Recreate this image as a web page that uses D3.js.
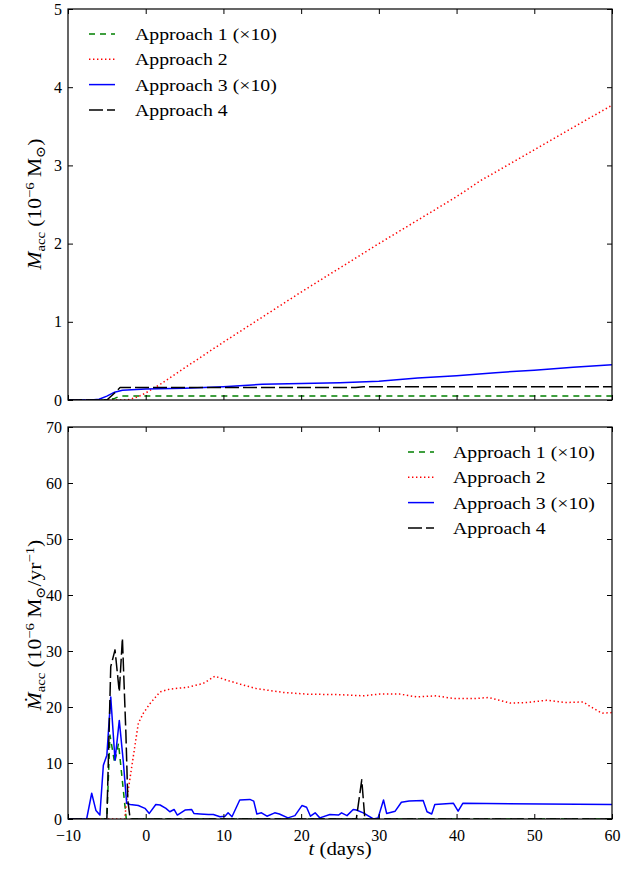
<!DOCTYPE html>
<html>
<head>
<meta charset="utf-8">
<script src="https://cdn.jsdelivr.net/npm/d3@7/dist/d3.min.js"></script>
<style>
  html, body { margin: 0; padding: 0; background: #fff; }
  svg { display: block; }
  text { font-family: "Liberation Serif", "DejaVu Serif", serif; fill: #000; }
</style>
</head>
<body>
<svg id="chart" width="643" height="870"></svg>
<script>
// ---------- data ----------
const seriesNames = ["Approach 1 (\u00d710)", "Approach 2", "Approach 3 (\u00d710)", "Approach 4"];
const seriesColors = ["#008000", "#ff0000", "#0000ff", "#000000"];
const xTicks = [-10, 0, 10, 20, 30, 40, 50, 60];
const yTicksTop = [0, 1, 2, 3, 4, 5];
const yTicksBottom = [0, 10, 20, 30, 40, 50, 60, 70];

// Top panel: accumulated mass (1e-6 Msun)
const topT1 = [-10, -5, -4, -3.3, 0, 10, 20, 30, 40, 50, 60];
const topV1 = [0, 0, 0.02, 0.05, 0.05, 0.05, 0.05, 0.05, 0.05, 0.05, 0.05];
const topT2 = [-10, -5, -2.4, -1, 0, 2, 5, 10, 20, 30, 40, 43, 50, 60];
const topV2 = [0, 0, 0.0, 0.04, 0.09, 0.21, 0.41, 0.74, 1.38, 2.0, 2.6, 2.8, 3.2, 3.77];
const topT3 = [-10, -7, -6, -5, -4, -3, 0, 5, 10, 15, 20, 25, 30, 35, 40, 45, 50, 55, 60];
const topV3 = [0, 0, 0.01, 0.05, 0.1, 0.125, 0.14, 0.15, 0.17, 0.2, 0.21, 0.22, 0.24, 0.28, 0.31, 0.35, 0.38, 0.42, 0.45];
const topT4 = [-10, -5, -4, -3.3, 0, 10, 20, 27, 28, 60];
const topV4 = [0, 0, 0.09, 0.16, 0.16, 0.16, 0.16, 0.16, 0.17, 0.17];

// Bottom panel: accretion rate (1e-6 Msun/yr)
const botT1 = [-10, -5, -4.6, -4.0, -3.5, -2.5, 60];
const botV1 = [0, 0, 15, 10, 13.5, 0, 0];
const botT2 = [-10, -2.7, -2.45, -1.8, -0.95, -0.3, 0.55, 1.84, 3.1, 5.3, 7.4, 8.9, 10.4, 12.1, 14.2, 17.7, 20.7, 25, 28, 30.1, 32.7, 34.9, 37.4, 39.6, 42.2, 44.1, 45.2, 46.9, 49, 51.6, 54, 56.3, 57.2, 58.7, 60];
const botV2 = [0, 0, 3.3, 9.3, 17.1, 18.9, 20.6, 22.7, 23.2, 23.5, 24.2, 25.5, 24.8, 24.1, 23.3, 22.6, 22.3, 22.2, 22.0, 22.3, 22.3, 21.8, 22.0, 21.5, 21.5, 21.7, 21.3, 20.7, 20.8, 21.2, 20.8, 20.9, 20.1, 18.9, 19.0];
const botT3 = [-10, -7.6, -6.95, -6.4, -5.9, -5.45, -5.0, -4.5, -3.95, -3.4, -2.9, -2.45, -2.0, -0.95, -0.1, 0.46, 1.3, 1.85, 2.6, 3.1, 3.65, 4.07, 5.06, 5.9, 6.2, 7.0, 8.06, 8.7, 9.56, 10.2, 10.6, 11.1, 12.1, 13.4, 13.9, 14.3, 14.9, 15.6, 16.6, 17.2, 18.3, 19.2, 20.1, 20.7, 21.2, 21.8, 22.4, 23.7, 24.8, 25.2, 25.9, 26.7, 27.1, 28.0, 29.3, 29.9, 30.6, 31.0, 32.1, 32.9, 33.9, 35.7, 36.2, 36.8, 37.2, 39.6, 40.2, 40.8, 60];
const botV3 = [0, 0, 4.6, 1.5, 0.7, 9.6, 11.4, 21.8, 10.5, 17.6, 10.5, 2.8, 2.6, 2.4, 1.9, 1.0, 2.6, 2.5, 1.9, 1.3, 1.7, 0.7, 1.6, 1.7, 1.0, 0.9, 0.8, 0.8, 0.4, 0.5, 1.1, 0.4, 3.4, 3.5, 3.2, 0.9, 1.1, 0.5, 1.1, 0.9, 0.2, 0.6, 2.4, 2.1, 0.5, 1.1, 0.2, 0.8, 0.7, 1.1, 0.6, 1.7, 1.6, 1.1, 0, 0.2, 3.4, 1.0, 1.4, 3.0, 3.2, 3.3, 1.3, 0.9, 2.6, 2.8, 1.4, 2.8, 2.6];
const botT4 = [-10, -5.0, -4.5, -3.95, -3.4, -3.0, -2.55, -2.3, -2.0, 27.1, 27.8, 28.2, 60];
const botV4 = [0, 0, 27.2, 30.2, 22.7, 32.3, 15.3, 3.3, 0, 0, 7.0, 0, 0];

// ---------- styles ----------
const dashes = ["6,5", "1.4,2.6", null, "14,4"];
const lineWidths = [1.5, 1.5, 1.5, 1.5];
const textStretch = 1.13;

const svg = d3.select("#chart");
const left = 68, right = 612;
const panels = [
  { top: 9, bottom: 400, domain: [0, 5], ticks: yTicksTop, showX: false,
    data: [[topT1, topV1], [topT2, topV2], [topT3, topV3], [topT4, topV4]],
    legend: { lx: 89, tx: 135, y0: 34 } },
  { top: 427, bottom: 819, domain: [0, 70], ticks: yTicksBottom, showX: true,
    data: [[botT1, botV1], [botT2, botV2], [botT3, botV3], [botT4, botV4]],
    legend: { lx: 408, tx: 453, y0: 452 } }
];

const x = d3.scaleLinear().domain([-10, 60]).range([left, right]);
const tickLen = 5;

panels.forEach((p, pi) => {
  const y = d3.scaleLinear().domain(p.domain).range([p.bottom, p.top]);
  const g = svg.append("g");
  const clipId = "clip" + pi;
  svg.append("clipPath").attr("id", clipId).append("rect")
    .attr("x", left).attr("y", p.top).attr("width", right - left).attr("height", p.bottom - p.top);

  const line = d3.line().x(d => x(d[0])).y(d => y(d[1]));
  p.data.forEach((s, i) => {
    const pts = s[0].map((t, k) => [t, s[1][k]]);
    g.append("path").datum(pts)
      .attr("clip-path", `url(#${clipId})`)
      .attr("d", line)
      .attr("fill", "none")
      .attr("stroke", seriesColors[i])
      .attr("stroke-width", lineWidths[i])
      .attr("stroke-dasharray", dashes[i])
      .attr("stroke-linejoin", "round");
  });

  const axL = d3.axisLeft(y).tickValues(p.ticks).tickSize(-tickLen).tickPadding(6).tickFormat(d3.format("d"));
  const axR = d3.axisRight(y).tickValues(p.ticks).tickSize(-tickLen).tickFormat("");
  const axB = d3.axisBottom(x).tickValues(xTicks).tickSize(-tickLen).tickPadding(11)
    .tickFormat(p.showX ? (d => d < 0 ? "\u2212" + Math.abs(d) : d) : "");
  const axT = d3.axisTop(x).tickValues(xTicks).tickSize(-tickLen).tickFormat("");

  [[axL, `translate(${left},0)`], [axR, `translate(${right},0)`],
   [axB, `translate(0,${p.bottom})`], [axT, `translate(0,${p.top})`]].forEach(([ax, tr]) => {
    const a = g.append("g").attr("transform", tr).call(ax);
    a.select(".domain").remove();
    a.selectAll(".tick line").attr("stroke", "#000").attr("stroke-width", 1);
    a.selectAll(".tick text").attr("font-size", 16).attr("font-family", "Liberation Serif, serif").attr("fill", "#000");
  });

  g.append("rect").attr("x", left).attr("y", p.top)
    .attr("width", right - left).attr("height", p.bottom - p.top)
    .attr("fill", "none").attr("stroke", "#000").attr("stroke-width", 1.2);

  seriesNames.forEach((name, i) => {
    const yy = p.legend.y0 + i * 25.3;
    g.append("line").attr("x1", p.legend.lx).attr("x2", p.legend.lx + 26)
      .attr("y1", yy).attr("y2", yy)
      .attr("stroke", seriesColors[i]).attr("stroke-width", lineWidths[i])
      .attr("stroke-dasharray", dashes[i]);
    g.append("text")
      .attr("transform", `translate(${p.legend.tx},${yy + 6}) scale(${textStretch},1)`)
      .attr("font-size", 17.5).text(name);
  });
});

function yLabel(cx, cy, dot, unitsPerYr) {
  const t = svg.append("text")
    .attr("transform", `translate(${cx},${cy}) rotate(-90) scale(${textStretch},1)`)
    .attr("text-anchor", "middle").attr("font-size", 19);
  t.append("tspan").attr("font-style", "italic").text(dot ? "\u1E40" : "M");
  t.append("tspan").attr("font-size", 13).attr("dy", 4).text("acc");
  t.append("tspan").attr("dy", -4).text(" (10");
  t.append("tspan").attr("font-size", 13).attr("dy", -7).text("\u22126");
  t.append("tspan").attr("dy", 7).text(" M");
  t.append("tspan").attr("font-size", 13).attr("dy", 4).text("\u2299");
  if (unitsPerYr) {
    t.append("tspan").attr("dy", -4).text("/yr");
    t.append("tspan").attr("font-size", 13).attr("dy", -7).text("\u22121");
    t.append("tspan").attr("dy", 7).text(")");
  } else {
    t.append("tspan").attr("dy", -4).text(")");
  }
}
yLabel(41, 204, false, false);
yLabel(41, 625, true, true);

const xl = svg.append("text")
  .attr("transform", `translate(${(left + right) / 2},855) scale(${textStretch},1)`)
  .attr("text-anchor", "middle").attr("font-size", 18.5);
xl.append("tspan").attr("font-style", "italic").text("t");
xl.append("tspan").text(" (days)");
</script>
</body>
</html>
